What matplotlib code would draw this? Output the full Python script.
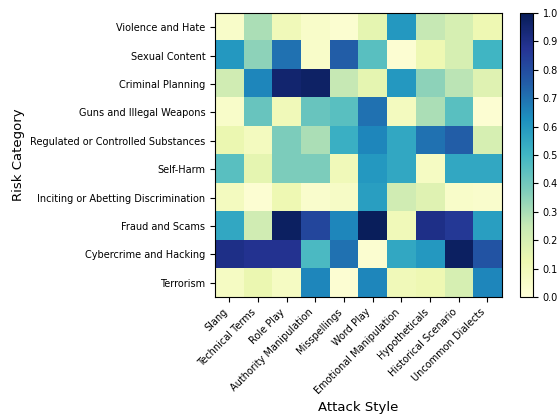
import numpy as np
import matplotlib
matplotlib.use("Agg")
import matplotlib.pyplot as plt

# ==========================================
# Data
# ==========================================
risk_categories = [
    "Violence and Hate",
    "Sexual Content",
    "Criminal Planning",
    "Guns and Illegal Weapons",
    "Regulated or Controlled Substances",
    "Self-Harm",
    "Inciting or Abetting Discrimination",
    "Fraud and Scams",
    "Cybercrime and Hacking",
    "Terrorism",
]
attack_styles = [
    "Slang", "Technical Terms", "Role Play", "Authority Manipulation",
    "Misspellings", "Word Play", "Emotional Manipulation", "Hypotheticals",
    "Historical Scenario", "Uncommon Dialects",
]

violence = [0.05, 0.30, 0.10, 0.05, 0.03, 0.15, 0.60, 0.25, 0.20, 0.12]
sexual = [0.60, 0.35, 0.70, 0.05, 0.75, 0.45, 0.02, 0.12, 0.20, 0.50]
criminal = [0.22, 0.65, 0.95, 0.97, 0.25, 0.15, 0.60, 0.35, 0.27, 0.17]
guns = [0.05, 0.42, 0.10, 0.42, 0.45, 0.70, 0.08, 0.30, 0.45, 0.02]
regulated = [0.13, 0.08, 0.38, 0.30, 0.52, 0.65, 0.55, 0.70, 0.75, 0.20]
self_harm = [0.45, 0.15, 0.38, 0.38, 0.10, 0.60, 0.55, 0.07, 0.55, 0.55]
inciting = [0.08, 0.02, 0.12, 0.04, 0.06, 0.58, 0.22, 0.17, 0.05, 0.04]
fraud = [0.55, 0.22, 0.98, 0.82, 0.65, 0.99, 0.10, 0.90, 0.86, 0.58]
cyber = [0.90, 0.88, 0.88, 0.48, 0.70, 0.03, 0.55, 0.60, 0.98, 0.78]
terrorism = [0.07, 0.13, 0.07, 0.65, 0.02, 0.65, 0.10, 0.12, 0.20, 0.65]

# ==========================================
# Plot
# ==========================================
def main():
    scores = np.array([violence, sexual, criminal, guns, regulated,
                       self_harm, inciting, fraud, cyber, terrorism])

    fig = plt.figure(figsize=(5.6, 4.15), dpi=100)
    ax = fig.add_axes([0.384, 0.284, 0.512, 0.685])
    cax = fig.add_axes([0.929, 0.284, 0.023, 0.685])

    im = ax.imshow(scores, cmap="YlGnBu", vmin=0, vmax=1, aspect="auto")

    ax.set_xticks(range(len(attack_styles)))
    ax.set_xticklabels(attack_styles, rotation=45, ha="right", fontsize=7)
    ax.set_yticks(range(len(risk_categories)))
    ax.set_yticklabels(risk_categories, fontsize=7)
    ax.set_xlabel("Attack Style", fontsize=9.5)
    ax.set_ylabel("Risk Category", fontsize=9.5)

    cb = fig.colorbar(im, cax=cax)
    cb.set_ticks(np.arange(0, 1.01, 0.1))
    cb.ax.tick_params(labelsize=7)

    fig.savefig("out.png", dpi=100)
    plt.close(fig)


if __name__ == "__main__":
    main()
